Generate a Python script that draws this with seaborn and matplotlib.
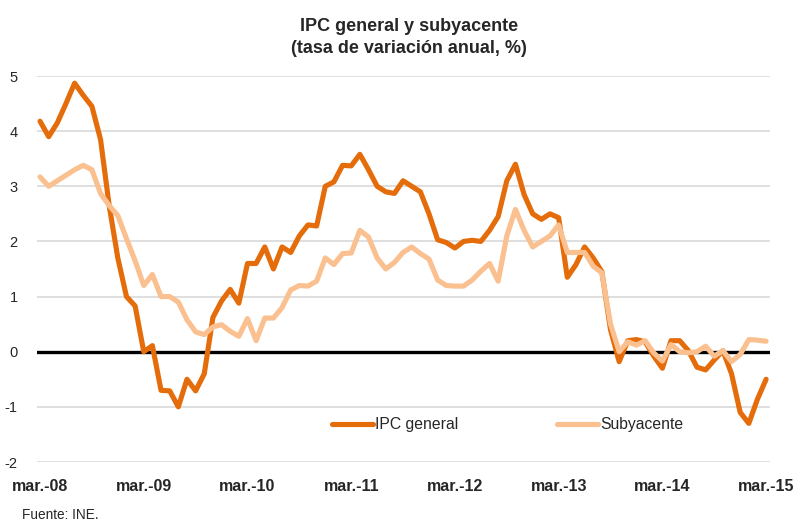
import numpy as np
import pandas as pd
import matplotlib
matplotlib.use("Agg")
import matplotlib.pyplot as plt
import seaborn as sns

# IPC general y subyacente, tasa anual (%), mensual mar-08 .. mar-15
ipc_general = [
    4.18, 3.90, 4.15, 4.50, 4.87, 4.65, 4.45, 3.85, 2.65, 1.70, 1.00, 0.83,
    0.00, 0.11, -0.70, -0.71, -1.00, -0.50, -0.71, -0.40, 0.62, 0.92, 1.13, 0.88,
    1.60, 1.60, 1.90, 1.50, 1.90, 1.80, 2.10, 2.30, 2.28, 3.00, 3.08, 3.38,
    3.37, 3.58, 3.30, 3.00, 2.90, 2.87, 3.10, 3.00, 2.90, 2.50, 2.03, 1.98,
    1.88, 2.00, 2.02, 2.00, 2.20, 2.45, 3.10, 3.40, 2.85, 2.50, 2.40, 2.50,
    2.43, 1.35, 1.58, 1.90, 1.70, 1.45, 0.40, -0.18, 0.20, 0.22, 0.18, -0.08,
    -0.30, 0.20, 0.20, 0.02, -0.28, -0.33, -0.15, 0.02, -0.40, -1.10, -1.30, -0.86,
    -0.50,
]
subyacente = [
    3.17, 3.00, 3.10, 3.20, 3.30, 3.38, 3.30, 2.87, 2.65, 2.47, 2.05, 1.65,
    1.20, 1.40, 1.00, 1.00, 0.90, 0.58, 0.36, 0.31, 0.45, 0.49, 0.37, 0.28,
    0.60, 0.20, 0.61, 0.61, 0.80, 1.12, 1.20, 1.19, 1.28, 1.70, 1.58, 1.78,
    1.79, 2.20, 2.08, 1.70, 1.50, 1.62, 1.80, 1.90, 1.78, 1.68, 1.30, 1.20,
    1.19, 1.19, 1.30, 1.46, 1.60, 1.28, 2.10, 2.58, 2.20, 1.90, 2.00, 2.10,
    2.30, 1.80, 1.80, 1.80, 1.55, 1.43, 0.50, 0.00, 0.18, 0.12, 0.20, -0.02,
    -0.17, 0.13, 0.00, -0.02, 0.00, 0.10, -0.08, 0.02, -0.18, -0.05, 0.22, 0.21,
    0.19,
]
tick_labels = ["mar.-08", "mar.-09", "mar.-10", "mar.-11",
               "mar.-12", "mar.-13", "mar.-14", "mar.-15"]
series_names = ["IPC general", "Subyacente"]
colors = {"IPC general": "#E46C0A", "Subyacente": "#FAC090"}

mes = np.arange(len(ipc_general))
df = pd.DataFrame({
    "mes": np.concatenate([mes, mes]),
    "valor": ipc_general + subyacente,
    "serie": [series_names[0]] * len(mes) + [series_names[1]] * len(mes),
})

sns.set_style("white")
plt.rcParams["font.family"] = ["Liberation Sans", "DejaVu Sans"]

fig = plt.figure(figsize=(7.96, 5.21), dpi=100)
ax = fig.add_axes([37 / 796, 1 - 462 / 521, 733 / 796, 386 / 521])

for y in range(-2, 6):
    if y != 0:
        ax.axhline(y, color="#d9d9d9", lw=1.2, zorder=0)
ax.axhline(0, color="black", lw=2.4, zorder=1)

sns.lineplot(data=df, x="mes", y="valor", hue="serie", hue_order=series_names,
             palette=colors, lw=3.7, ax=ax, zorder=3,
             solid_capstyle="round", solid_joinstyle="round")

ax.set_xlim(-0.35, 84.45)
ax.set_ylim(-2, 5)
ax.set_xticks(mes[::12])
ax.set_xticklabels(tick_labels, fontweight="bold", fontsize=11.5)
ax.set_yticks(range(-2, 6))
ax.set_yticklabels([str(v) for v in range(-2, 6)], fontsize=10.5)
ax.tick_params(axis="x", length=0, pad=12)
ax.tick_params(axis="y", length=0, pad=14)
ax.set_xlabel("")
ax.set_ylabel("")
sns.despine(ax=ax, left=True, bottom=True)

handles, labels = ax.get_legend_handles_labels()
for h in handles:
    h.set_linewidth(3.7)
    h.set_solid_capstyle("round")
ax.legend(handles, labels, loc="center left", bbox_to_anchor=(0.4025, 0.096),
          ncol=2, frameon=False, fontsize=11.3, handlelength=2.6,
          handletextpad=0.15, columnspacing=6.3, borderpad=0, borderaxespad=0)

fig.text(409 / 796, 1 - 18 / 521, "IPC general y subyacente\n(tasa de variación anual, %)",
         ha="center", va="top", fontsize=13, fontweight="bold", linespacing=1.35)
fig.text(22 / 796, 1 - 515 / 521, "Fuente: INE.", ha="left", va="center", fontsize=9.8)

fig.savefig("out.png", dpi=100)
